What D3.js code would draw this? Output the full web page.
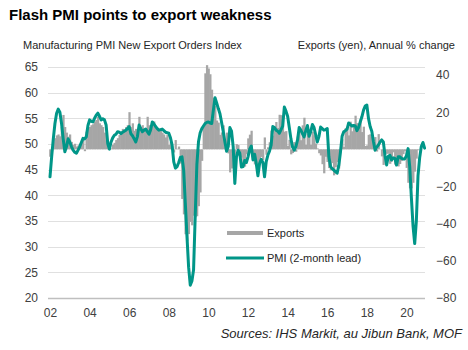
<!DOCTYPE html>
<html><head><meta charset="utf-8">
<script src="https://cdn.jsdelivr.net/npm/d3@7"></script>
<style>
body{margin:0;background:#fff}
svg{display:block}
text{font-family:Arial,"Liberation Sans",sans-serif}
</style>
</head><body>
<svg id="c" width="468" height="350"></svg>
<script>
// Monthly values, index 0 = first month on the chart (axis labels every 2 years)
const pmi = [
  43.6,47.5,51,54,56,56.8,56.2,54,51,48.5,49.5,51,
  50.4,49.5,48.8,48.4,48.2,48.8,49.5,50.3,51.1,51,51.4,53.6,
  54.7,54.4,54.3,55,55.6,56,55.4,54.7,54.9,54.7,53.7,50.1,
  49,50.4,51.2,51.7,51.9,52.4,52.3,52,52.3,52.5,52.7,53,
  53.4,52,51.6,51,50.4,51.5,53.7,53,52.4,52.7,52.9,52.4,
  51.9,52.8,54.3,53.9,53.4,53,52.7,52.8,52.9,52.6,52.3,52.2,
  52.1,51.2,49.8,46.5,45.3,45.6,46.4,47.4,47.5,44.9,38.5,32,
  26,22.5,23.3,25.5,36,46,50.5,52.2,53,53.5,54,54.2,
  54.3,54.1,54,56.6,59,58,56.9,55.9,54.2,52.4,50.4,48.6,
  49.5,53.2,52.5,49.5,42.3,47.5,48.8,48.2,45.5,45.6,46.8,46.4,
  47.5,49,49.6,46.9,48,46.2,43.8,46.2,47,46.4,43.6,46.5,
  47.8,48.6,49.8,53.4,53.2,52.7,52.5,52.1,52.8,53.5,57.2,56.4,
  55.4,53.2,51,49.4,48.8,49.5,50.8,53.2,52.7,52,51.4,52.6,
  53.6,51.5,52.4,53.8,53.2,51.8,50.4,51.5,53.3,53,52.7,52.8,
  53,47.5,45.6,45.2,44.9,44.6,44.3,45.8,48.4,51.5,52.4,52.6,
  52.9,54.1,53.8,53.5,53.6,53.5,52.6,53.2,54.3,55.3,56.6,57.4,
  57.6,55,53.4,52.5,50.5,48.8,49.4,49.8,50.4,50.8,50.4,47.8,
  45.9,47.6,47.8,46.9,47.3,47.2,45.9,47.5,47.5,47.2,47.1,47.1,
  47.7,49.1,45.5,39.5,34,30.6,35,43.8,47.3,49.5,50.3,49.2
];
const exportsYoY = [
  -4,-1,4,6,7.5,8,7,12,18.5,12,9,6.8,
  8,4,2.3,3,1.5,2,3,4,5.5,-1,9.5,12,
  12,13,13.5,15,15.8,17.5,14,13,12,9,5,2,
  1,0.5,2.5,3.5,5,6,7.7,8,11,10,12,13,
  20,12,14,10,11,9.5,17.5,12,13,11,11,17.5,
  13,12,15,15,12,11,11,10,9,8,6.4,7.8,
  2.3,3.9,1.6,-1.7,5,0.3,1.5,-7.7,-26.7,-35,-45.7,-49.4,
  -45.6,-39.1,-40.9,-35.7,-36.5,-36,-30.6,-23.2,-6.2,12.1,40.9,45.3,
  43.5,40.4,32.1,27.7,23.5,15.5,14.4,7.8,9.1,12.9,1.4,9,
  -2.2,-12.4,-10.3,-1.6,-3.4,2.8,2.3,-3.7,-4.5,-8,-9.3,-2.7,
  5.9,7.9,10,-2.3,-8.1,-5.8,-10.3,-6.5,-4.1,-5.8,6.4,-2.9,
  1.1,3.8,10.1,7.4,12.2,14.7,11.5,18.6,18.4,15.3,9.5,9.8,
  1.8,5.1,-2.7,-2,3.9,-1.3,6.9,9.6,4.9,12.9,17,2.4,
  8.5,8,2.4,9.5,7.6,3.1,0.5,-2.1,-3.3,-8,-12.9,-4,
  -6.8,-10.1,-11.3,-7.4,-14,-9.6,-6.9,-10.3,-0.4,5.4,1.3,11.3,
  12,7.5,14.9,9.7,13.4,18.1,14.1,14,16.2,9.3,12.2,1.8,
  2.1,7.8,8.1,6.7,3.9,6.6,-1.2,8.2,0.1,-3.8,-8.4,-1.2,
  -2.4,-2.4,-7.8,-6.6,-1.6,-8.2,-5.2,-9.2,-7.9,-6.3,-2.6,-1,
  -10,-18,-21,-21,-18,-12,-5,-0.5
];
const yearTickIndex = [0,24,48,72,96,120,144,168,192,216];
const yearLabels = ["02","04","06","08","10","12","14","16","18","20"];
const leftTicks = [20,25,30,35,40,45,50,55,60,65];
const rightTicks = [-80,-60,-40,-20,0,20,40];

const svg = d3.select("#c");
const x = d3.scaleLinear().domain([0, 227]).range([50, 424.6]);
const step = x(1) - x(0);
const yL = d3.scaleLinear().domain([20, 65]).range([298, 67]);
const yR = d3.scaleLinear().domain([-80, 40]).range([298, 75]);

// title & subtitles
svg.append("text").attr("x", 9).attr("y", 19.5).attr("font-size", 15).attr("font-weight", "bold")
  .attr("fill", "#000").text("Flash PMI points to export weakness");
svg.append("text").attr("x", 23).attr("y", 49).attr("font-size", 11).attr("fill", "#262626")
  .text("Manufacturing PMI New Export Orders Index");
svg.append("text").attr("x", 455).attr("y", 49).attr("font-size", 11).attr("fill", "#262626")
  .attr("text-anchor", "end").text("Exports (yen), Annual % change");

// gridlines
svg.append("g").selectAll("line").data(leftTicks).join("line")
  .attr("x1", 48).attr("x2", 425)
  .attr("y1", d => Math.round(yL(d)) + 0.5).attr("y2", d => Math.round(yL(d)) + 0.5)
  .attr("stroke", d => d === 20 ? "#bfbfbf" : "#e0e0e0")
  .attr("stroke-width", d => d === 20 ? 1.5 : 1);

// bars
svg.append("g").selectAll("rect").data(exportsYoY).join("rect")
  .attr("x", (d, i) => x(i) - step / 2)
  .attr("width", step + 0.6)
  .attr("y", d => Math.min(yR(d), yR(0)))
  .attr("height", d => Math.abs(yR(d) - yR(0)))
  .attr("fill", "#a6a6a6");

// line
svg.append("path").datum(pmi)
  .attr("d", d3.line().x((d, i) => x(i)).y(d => yL(d)))
  .attr("fill", "none").attr("stroke", "#009688").attr("stroke-width", 3)
  .attr("stroke-linejoin", "round").attr("stroke-linecap", "round");

// axes
const axL = svg.append("g").attr("transform", "translate(48,0)")
  .call(d3.axisLeft(yL).tickValues(leftTicks).tickSize(0).tickPadding(10));
const axR = svg.append("g").attr("transform", "translate(426,0)")
  .call(d3.axisRight(yR).tickValues(rightTicks).tickSize(0).tickPadding(10));
const axB = svg.append("g").attr("transform", "translate(0,298)")
  .call(d3.axisBottom(x).tickValues(yearTickIndex).tickFormat((d, i) => yearLabels[i]).tickSize(0).tickPadding(10));
[axL, axR, axB].forEach(a => {
  a.select(".domain").remove();
  a.selectAll("text").attr("font-size", 12).attr("fill", "#404040")
    .attr("font-family", "Arial, 'Liberation Sans', sans-serif");
});

// legend
svg.append("line").attr("x1", 227).attr("x2", 263).attr("y1", 233).attr("y2", 233)
  .attr("stroke", "#a6a6a6").attr("stroke-width", 4);
svg.append("text").attr("x", 267).attr("y", 237).attr("font-size", 11).attr("fill", "#262626").text("Exports");
svg.append("line").attr("x1", 226).attr("x2", 264).attr("y1", 258).attr("y2", 258)
  .attr("stroke", "#009688").attr("stroke-width", 3);
svg.append("text").attr("x", 267).attr("y", 262).attr("font-size", 11).attr("fill", "#262626").text("PMI (2-month lead)");

// source
svg.append("text").attr("x", 462).attr("y", 338).attr("font-size", 13).attr("font-style", "italic")
  .attr("text-anchor", "end").attr("fill", "#262626").text("Sources: IHS Markit, au Jibun Bank, MOF");
</script>
</body></html>
